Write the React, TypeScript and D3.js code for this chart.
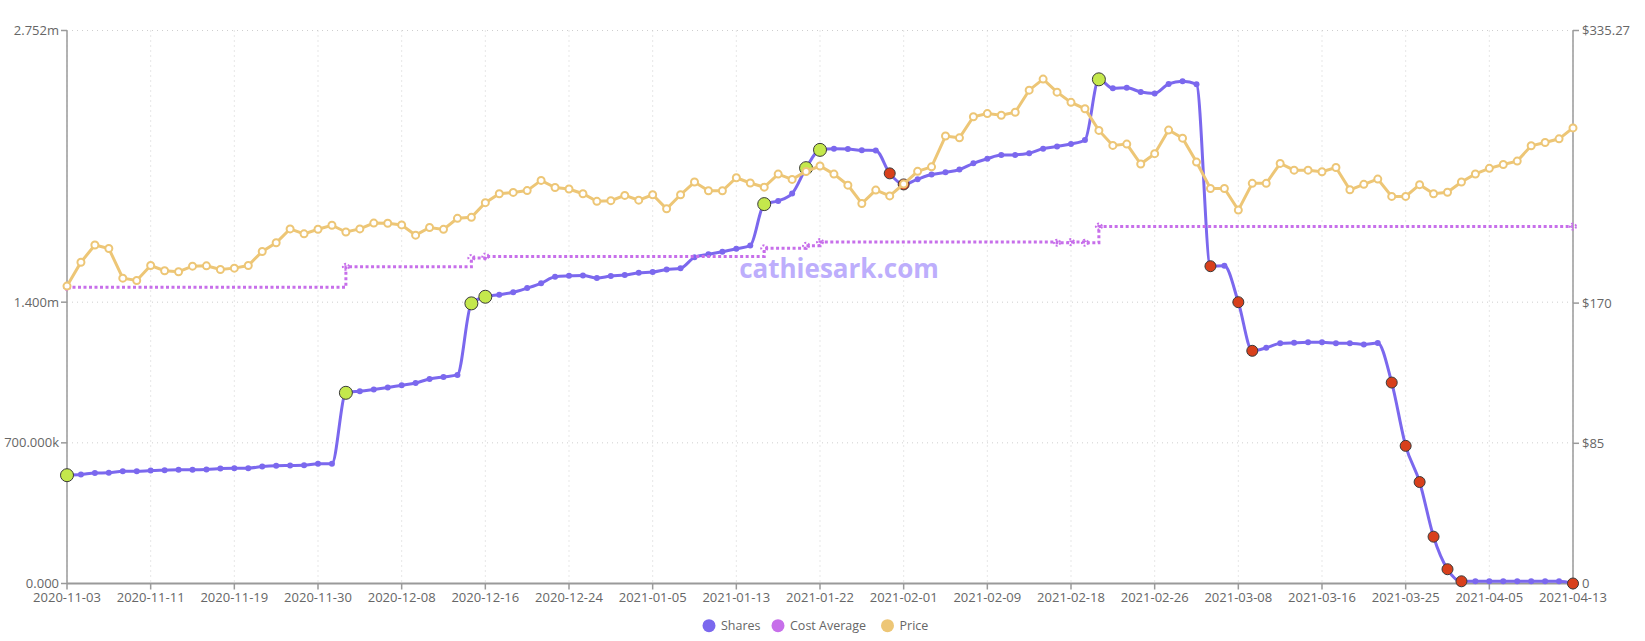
import * as d3 from "d3";
import * as React from "react";

// trading days shown on the x axis
const dates = [
  "2020-11-03", "2020-11-04", "2020-11-05", "2020-11-06", "2020-11-09", "2020-11-10", "2020-11-11", "2020-11-12", "2020-11-13", "2020-11-16",
  "2020-11-17", "2020-11-18", "2020-11-19", "2020-11-20", "2020-11-23", "2020-11-24", "2020-11-25", "2020-11-27", "2020-11-30", "2020-12-01",
  "2020-12-02", "2020-12-03", "2020-12-04", "2020-12-07", "2020-12-08", "2020-12-09", "2020-12-10", "2020-12-11", "2020-12-14", "2020-12-15",
  "2020-12-16", "2020-12-17", "2020-12-18", "2020-12-21", "2020-12-22", "2020-12-23", "2020-12-24", "2020-12-28", "2020-12-29", "2020-12-30",
  "2020-12-31", "2021-01-04", "2021-01-05", "2021-01-06", "2021-01-07", "2021-01-08", "2021-01-11", "2021-01-12", "2021-01-13", "2021-01-14",
  "2021-01-15", "2021-01-19", "2021-01-20", "2021-01-21", "2021-01-22", "2021-01-25", "2021-01-26", "2021-01-27", "2021-01-28", "2021-01-29",
  "2021-02-01", "2021-02-02", "2021-02-03", "2021-02-04", "2021-02-05", "2021-02-08", "2021-02-09", "2021-02-10", "2021-02-11", "2021-02-12",
  "2021-02-16", "2021-02-17", "2021-02-18", "2021-02-19", "2021-02-22", "2021-02-23", "2021-02-24", "2021-02-25", "2021-02-26", "2021-03-01",
  "2021-03-02", "2021-03-03", "2021-03-04", "2021-03-05", "2021-03-08", "2021-03-09", "2021-03-10", "2021-03-11", "2021-03-12", "2021-03-15",
  "2021-03-16", "2021-03-17", "2021-03-18", "2021-03-22", "2021-03-23", "2021-03-24", "2021-03-25", "2021-03-26", "2021-03-29", "2021-03-30",
  "2021-03-31", "2021-04-01", "2021-04-05", "2021-04-06", "2021-04-07", "2021-04-08", "2021-04-09", "2021-04-12", "2021-04-13",
];

const shares = [
  539000, 542000, 550000, 551000, 558000, 558000, 562000, 564000, 566000, 566000,
  567000, 572000, 574000, 574000, 582000, 586000, 587000, 588000, 596000, 596000,
  949000, 957000, 965000, 975000, 987000, 998000, 1018000, 1028000, 1038000, 1394000,
  1427000, 1437000, 1449000, 1470000, 1494000, 1527000, 1531000, 1533000, 1520000, 1530000,
  1535000, 1546000, 1550000, 1563000, 1569000, 1623000, 1638000, 1651000, 1666000, 1682000,
  1888000, 1904000, 1941000, 2067000, 2158000, 2163000, 2162000, 2156000, 2155000, 2041000,
  1986000, 2012000, 2035000, 2046000, 2060000, 2091000, 2114000, 2132000, 2133000, 2141000,
  2164000, 2175000, 2187000, 2207000, 2509000, 2464000, 2467000, 2446000, 2439000, 2486000,
  2500000, 2485000, 1579000, 1581000, 1400000, 1158000, 1173000, 1195000, 1198000, 1200000,
  1200000, 1196000, 1196000, 1190000, 1197000, 1000000, 685000, 505000, 233000, 71000,
  11000, 11000, 11000, 11000, 11000, 11000, 11000, 11000, 0,
];

const price = [
  180.3, 194.8, 205.2, 203.1, 185.1, 183.7, 192.8, 189.6, 189.0, 192.4,
  192.6, 190.4, 191.2, 192.8, 201.3, 206.6, 215.0, 212.0, 214.8, 217.2,
  213.1, 215.0, 218.5, 218.4, 217.4, 211.2, 215.8, 214.7, 221.4, 222.0,
  230.9, 236.3, 237.1, 238.2, 244.4, 240.1, 239.2, 236.3, 231.7, 232.1,
  235.3, 232.4, 235.7, 227.2, 235.7, 243.4, 238.1, 238.1, 246.0, 242.8,
  240.3, 248.2, 245.0, 249.8, 253.1, 248.2, 241.5, 230.4, 238.5, 235.0,
  242.2, 249.9, 252.6, 271.3, 270.2, 283.0, 284.9, 283.9, 285.7, 299.1,
  305.8, 297.9, 291.7, 287.8, 274.7, 265.6, 266.4, 254.3, 260.6, 274.9,
  270.0, 255.5, 239.5, 239.5, 226.4, 242.6, 242.6, 254.7, 250.6, 250.6,
  249.6, 252.2, 238.7, 242.0, 245.2, 234.7, 234.7, 241.8, 236.3, 237.2,
  243.4, 248.3, 251.7, 254.0, 256.1, 265.4, 267.4, 269.6, 276.2,
];

const costAverage = [
  179.6, 179.6, 179.6, 179.6, 179.6, 179.6, 179.6, 179.6, 179.6, 179.6,
  179.6, 179.6, 179.6, 179.6, 179.6, 179.6, 179.6, 179.6, 179.6, 179.6,
  192.0, 192.0, 192.0, 192.0, 192.0, 192.0, 192.0, 192.0, 192.0, 197.4,
  198.3, 198.3, 198.3, 198.3, 198.3, 198.3, 198.3, 198.3, 198.3, 198.3,
  198.3, 198.3, 198.3, 198.3, 198.3, 198.3, 198.3, 198.3, 198.3, 198.3,
  203.2, 203.2, 203.2, 204.8, 207.0, 207.0, 207.0, 207.0, 207.0, 207.0,
  207.0, 207.0, 207.0, 207.0, 207.0, 207.0, 207.0, 207.0, 207.0, 207.0,
  207.0, 206.6, 207.0, 206.6, 216.4, 216.4, 216.4, 216.4, 216.4, 216.4,
  216.4, 216.4, 216.4, 216.4, 216.4, 216.4, 216.4, 216.4, 216.4, 216.4,
  216.4, 216.4, 216.4, 216.4, 216.4, 216.4, 216.4, 216.4, 216.4, 216.4,
  216.4, 216.4, 216.4, 216.4, 216.4, 216.4, 216.4, 216.4, 216.4,
];

const buyDates = ["2020-11-03", "2020-12-02", "2020-12-15", "2020-12-16", "2021-01-15", "2021-01-21", "2021-01-22", "2021-02-22"];
const sellDates = [
  "2021-01-29", "2021-02-01", "2021-03-04", "2021-03-08", "2021-03-09", "2021-03-24", "2021-03-25",
  "2021-03-26", "2021-03-29", "2021-03-30", "2021-03-31", "2021-04-13",
];

const xTickDates = [
  "2020-11-03", "2020-11-11", "2020-11-19", "2020-11-30", "2020-12-08", "2020-12-16", "2020-12-24", "2021-01-05", "2021-01-13", "2021-01-22",
  "2021-02-01", "2021-02-09", "2021-02-18", "2021-02-26", "2021-03-08", "2021-03-16", "2021-03-25", "2021-04-05", "2021-04-13",
];
const leftTicks = [0, 700000, 1400000, 2752000];
const leftTickLabels = ["0.000", "700.000k", "1.400m", "2.752m"];
const rightTicks = [0, 85, 170, 335.27];
const rightTickLabels = ["0", "$85", "$170", "$335.27"];

const seriesNames = ["Shares", "Cost Average", "Price"];
const seriesColors = ["#7B68EE", "#C76FEA", "#EDC676"];

const W = 1645;
const H = 641;
const left = 67;
const right = 1573;
const top = 30.5;
const bottom = 583.5;
const font = "'Open Sans', 'Noto Sans', sans-serif";
const labelColor = "#666";

export default function App() {
  const x = d3.scalePoint<string>().domain(dates).range([left, right]);
  const yL = d3.scaleLinear().domain([0, 2752000]).range([bottom, top]);
  const yR = d3.scaleLinear().domain([0, 335.27]).range([bottom, top]);
  const xi = (i: number) => x(dates[i]) as number;

  const sharesLine = d3.line<number>()
    .x((_, i) => xi(i))
    .y(d => yL(d))
    .curve(d3.curveMonotoneX)(shares) as string;

  const priceLine = d3.line<number>()
    .x((_, i) => xi(i))
    .y(d => yR(d))(price) as string;

  const costLine = d3.line<number>()
    .x((_, i) => xi(i))
    .y(d => yR(d))
    .curve(d3.curveStepAfter)(costAverage) as string;

  // little markers where the cost average moves
  const costMarks = costAverage
    .map((d, i) => ({ d, i }))
    .filter(({ d, i }) => i === 0 || i === costAverage.length - 1 || d !== costAverage[i - 1]);

  const legendX = [709, 778, 887.5];

  return (
    <svg width={W} height={H} style={{ position: "absolute", left: 0, top: 0, background: "#fff" }} fontFamily={font}>
      {/* grid */}
      <g stroke="#cfcfcf" strokeDasharray="1,4" strokeWidth={1}>
        {xTickDates.map(t => (
          <line key={t} x1={x(t)} x2={x(t)} y1={top} y2={bottom} />
        ))}
        {leftTicks.map(t => (
          <line key={t} x1={left} x2={right} y1={yL(t)} y2={yL(t)} />
        ))}
      </g>

      <text x={839} y={278} textAnchor="middle" fontSize={26} fontWeight="bold" fill="#BDAEFC">
        cathiesark.com
      </text>

      {/* axes */}
      <g stroke="#9a9a9a" strokeWidth={1.5}>
        <line x1={left} x2={left} y1={top} y2={bottom} />
        <line x1={right} x2={right} y1={top} y2={bottom} />
        <line x1={left} x2={right} y1={bottom} y2={bottom} strokeWidth={2} />
        {leftTicks.map(t => (
          <line key={"l" + t} x1={left - 6} x2={left} y1={yL(t)} y2={yL(t)} />
        ))}
        {rightTicks.map(t => (
          <line key={"r" + t} x1={right} x2={right + 6} y1={yR(t)} y2={yR(t)} />
        ))}
        {xTickDates.map(t => (
          <line key={"x" + t} x1={x(t)} x2={x(t)} y1={bottom} y2={bottom + 6} />
        ))}
      </g>
      <g fontSize={13} fill={labelColor}>
        {leftTicks.map((t, i) => (
          <text key={t} x={left - 8} y={yL(t)} dy="0.35em" textAnchor="end">{leftTickLabels[i]}</text>
        ))}
        {rightTicks.map((t, i) => (
          <text key={t} x={right + 9} y={yR(t)} dy="0.35em">{rightTickLabels[i]}</text>
        ))}
        {xTickDates.map(t => (
          <text key={t} x={x(t)} y={602} textAnchor="middle">{t}</text>
        ))}
      </g>

      {/* shares */}
      <path d={sharesLine} fill="none" stroke={seriesColors[0]} strokeWidth={3} />
      {shares.map((d, i) => (
        <circle key={i} cx={xi(i)} cy={yL(d)} r={3} fill={seriesColors[0]} />
      ))}
      {buyDates.map(dt => {
        const i = dates.indexOf(dt);
        return <circle key={dt} cx={xi(i)} cy={yL(shares[i])} r={6.5} fill="#C4E84C" stroke="#3a3a3a" strokeWidth={1} />;
      })}
      {sellDates.map(dt => {
        const i = dates.indexOf(dt);
        return <circle key={dt} cx={xi(i)} cy={yL(shares[i])} r={5.5} fill="#D8401C" stroke="#3a3a3a" strokeWidth={1} />;
      })}

      {/* cost average */}
      <path d={costLine} fill="none" stroke={seriesColors[1]} strokeWidth={3} strokeDasharray="3,2.5" />
      {costMarks.map(({ d, i }) => (
        <circle key={i} cx={xi(i)} cy={yR(d)} r={3} fill="none" stroke={seriesColors[1]} strokeWidth={2} strokeDasharray="2,2" />
      ))}

      {/* price */}
      <path d={priceLine} fill="none" stroke={seriesColors[2]} strokeWidth={3} />
      {price.map((d, i) => (
        <circle key={i} cx={xi(i)} cy={yR(d)} r={3.5} fill="#fff" stroke={seriesColors[2]} strokeWidth={2} />
      ))}

      {/* legend */}
      <g fontSize={12.5} fill={labelColor}>
        {seriesNames.map((s, i) => (
          <g key={s}>
            <circle cx={legendX[i]} cy={625.7} r={6.5} fill={seriesColors[i]} />
            <text x={legendX[i] + 12} y={625.7} dy="0.35em">{s}</text>
          </g>
        ))}
      </g>
    </svg>
  );
}
